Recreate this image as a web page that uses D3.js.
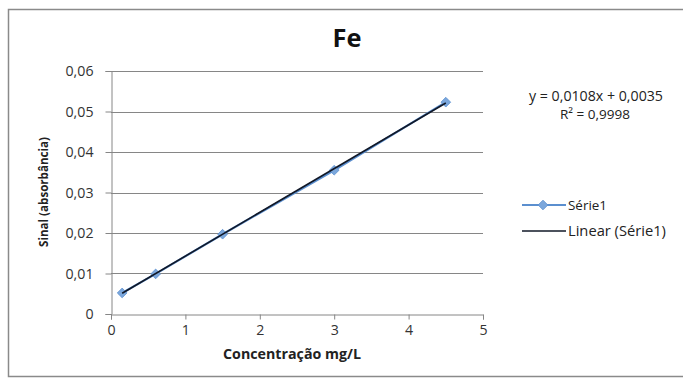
<!DOCTYPE html>
<html><head><meta charset="utf-8">
<script src="https://cdn.jsdelivr.net/npm/d3@7"></script>
<style>body{margin:0;background:#fff}svg{display:block}text{font-family:"Open Sans",Lato,sans-serif}</style>
</head><body>
<script>
const concentrations = [0.15, 0.6, 1.5, 3, 4.5];
const absorbances = [0.0052, 0.0099, 0.0197, 0.0355, 0.0523];
const slope = 0.0108, intercept = 0.0035;
const xTicks = [0, 1, 2, 3, 4, 5];
const yTicks = [0, 0.01, 0.02, 0.03, 0.04, 0.05, 0.06];
const titleText = "Fe";
const xTitle = "Concentração mg/L";
const yTitle = "Sinal (absorbância)";
const eqText = "y = 0,0108x + 0,0035";
const r2Text = "R² = 0,9998";
const legendLabels = ["Série1", "Linear (Série1)"];

const W = 683, H = 378;
const svg = d3.select("body").append("svg").attr("width", W).attr("height", H);
svg.append("rect").attr("x", 8.5).attr("y", 9.5).attr("width", 700).attr("height", 367)
  .attr("fill", "#fff").attr("stroke", "#8a8a8a").attr("stroke-width", 1.5);

function fit(sel, width) {
  sel.each(function () {
    const base = parseFloat(this.style.fontSize) || 12;
    const w = this.getComputedTextLength();
    if (w > 0) this.style.fontSize = (base * width / w).toFixed(2) + "px";
  });
  return sel;
}

const x = d3.scaleLinear().domain([0, 5]).range([111, 483]);
const y = d3.scaleLinear().domain([0, 0.06]).range([314, 71]);
const fmt = d => d === 0 ? "0" : d3.format(".2f")(d).replace(".", ",");

svg.append("g").selectAll("line").data(yTicks.filter(d => d > 0)).join("line")
  .attr("x1", x(0)).attr("x2", x(5)).attr("y1", d => Math.round(y(d)) + 0.5).attr("y2", d => Math.round(y(d)) + 0.5)
  .attr("stroke", "#868686").attr("stroke-width", 1);

const yAxis = svg.append("g").attr("transform", `translate(${x(0) + 0.5},0)`)
  .call(d3.axisLeft(y).tickValues(yTicks).tickFormat(fmt).tickSize(6).tickPadding(12));
const xAxis = svg.append("g").attr("transform", `translate(0,${Math.round(y(0)) + 0.5})`)
  .call(d3.axisBottom(x).tickValues(xTicks).tickFormat(d => d).tickSize(5).tickPadding(5));
[yAxis, xAxis].forEach(a => {
  a.select(".domain").attr("stroke", "#868686");
  a.selectAll(".tick line").attr("stroke", "#868686");
  a.selectAll("text").attr("fill", "#333").style("font-size", "11px").style("font-family", "'Open Sans', sans-serif");
});
fit(yAxis.selectAll(".tick text").filter(d => d === 0.06), 28);
const yfs = yAxis.selectAll(".tick text").filter(d => d === 0.06).style("font-size");
yAxis.selectAll("text").style("font-size", yfs);
xAxis.selectAll("text").style("font-size", yfs);

const pts = concentrations.map((c, i) => [c, absorbances[i]]);
svg.append("path").datum(pts).attr("fill", "none").attr("stroke", "#5b8fcf").attr("stroke-width", 2.2)
  .attr("d", d3.line().x(d => x(d[0])).y(d => y(d[1])));
const diamond = d3.symbol().type(d3.symbolDiamond2).size(60);
svg.append("g").selectAll("path").data(pts).join("path")
  .attr("transform", d => `translate(${x(d[0])},${y(d[1])})`)
  .attr("d", diamond).attr("fill", "#7ba7dc").attr("stroke", "#5b8fcf").attr("stroke-width", 0.8);

const xs = d3.extent(concentrations);
svg.append("line").attr("x1", x(xs[0])).attr("x2", x(xs[1]))
  .attr("y1", y(slope * xs[0] + intercept)).attr("y2", y(slope * xs[1] + intercept))
  .attr("stroke", "#111827").attr("stroke-width", 1.6);

function label(txt, cx, cy, width, opts = {}) {
  const t = svg.append("text").attr("x", cx).attr("y", cy).attr("dy", "0.35em")
    .attr("text-anchor", opts.anchor || "middle").attr("fill", opts.fill || "#222")
    .style("font-size", "12px").style("font-weight", opts.bold ? "bold" : "normal")
    .text(txt);
  if (opts.rotate) t.attr("transform", `rotate(-90,${cx},${cy})`);
  fit(t, width);
  return t;
}

label(titleText, 347, 38, 29, { bold: true, fill: "#111" });
label(xTitle, 292, 354, 138, { bold: true });
label(yTitle, 44, 192, 110, { bold: true, rotate: true });
label(eqText, 596, 96, 134);
label(r2Text, 595, 114, 70);

const lg = svg.append("g");
lg.append("line").attr("x1", 522).attr("x2", 566).attr("y1", 205).attr("y2", 205).attr("stroke", "#5b8fcf").attr("stroke-width", 2.2);
lg.append("path").attr("transform", "translate(543,205)").attr("d", diamond).attr("fill", "#7ba7dc").attr("stroke", "#5b8fcf").attr("stroke-width", 0.8);
lg.append("line").attr("x1", 522).attr("x2", 566).attr("y1", 231).attr("y2", 231).attr("stroke", "#111827").attr("stroke-width", 1.6);
label(legendLabels[1], 568, 231, 98, { anchor: "start" });
label(legendLabels[0], 568, 205, 39, { anchor: "start" });
</script>
</body></html>
